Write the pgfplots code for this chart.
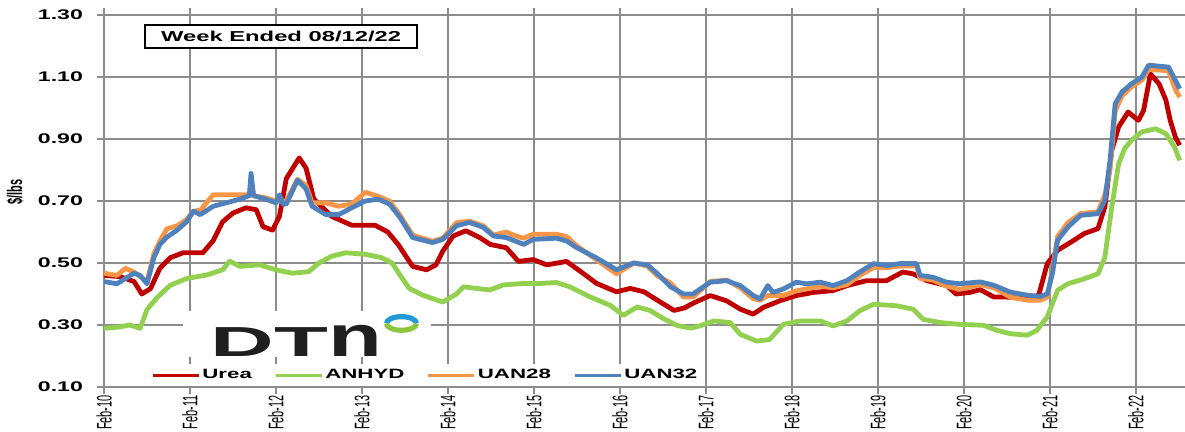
\documentclass[border=0pt]{standalone}
\usepackage{fontspec}
\setmainfont[FakeStretch=1.65]{Liberation Sans}
\newfontfamily\rotfont[FakeStretch=0.52]{Liberation Sans}
\newfontfamily\logofont[FakeStretch=2.1]{Liberation Sans}
\usepackage{graphicx}
\usepackage{pgfplots}
\pgfplotsset{compat=1.18}

\definecolor{urea}{HTML}{C00000}
\definecolor{anhyd}{HTML}{92D050}
\definecolor{uantwo}{HTML}{F79646}
\definecolor{uanthree}{HTML}{4F81BD}
\definecolor{gridgray}{HTML}{8C8C8C}
\definecolor{dtnblue}{HTML}{1E9AD6}
\definecolor{dtngreen}{HTML}{8CC63F}

% Retail prices in $/lb of nitrogen, x = years since Feb 2010
\pgfplotstableread{
x y
0.00 0.46
0.19 0.456
0.35 0.44
0.44 0.40
0.54 0.417
0.65 0.483
0.77 0.517
0.92 0.533
1.15 0.533
1.27 0.572
1.38 0.633
1.50 0.661
1.65 0.678
1.77 0.672
1.85 0.617
1.96 0.606
2.04 0.65
2.12 0.772
2.27 0.839
2.35 0.806
2.44 0.706
2.65 0.65
2.88 0.622
3.15 0.622
3.30 0.60
3.42 0.56
3.59 0.489
3.75 0.478
3.86 0.494
3.94 0.538
4.06 0.587
4.21 0.604
4.37 0.582
4.49 0.56
4.68 0.549
4.82 0.505
4.99 0.511
5.15 0.494
5.38 0.505
5.54 0.473
5.73 0.434
5.96 0.407
6.12 0.418
6.28 0.407
6.47 0.374
6.63 0.347
6.75 0.355
6.85 0.37
7.05 0.395
7.24 0.378
7.40 0.351
7.55 0.335
7.67 0.357
7.86 0.378
8.05 0.395
8.25 0.405
8.48 0.411
8.64 0.427
8.87 0.443
9.10 0.443
9.29 0.471
9.41 0.465
9.57 0.443
9.80 0.427
9.91 0.40
10.07 0.405
10.19 0.414
10.35 0.39
10.50 0.39
10.74 0.385
10.87 0.396
10.97 0.498
11.09 0.541
11.25 0.568
11.40 0.595
11.56 0.611
11.64 0.681
11.72 0.863
11.80 0.939
11.91 0.987
12.03 0.96
12.09 0.992
12.17 1.11
12.27 1.078
12.35 1.025
12.40 0.96
12.46 0.906
12.51 0.88
}\ureadata

\pgfplotstableread{
x y
0.00 0.289
0.19 0.294
0.30 0.30
0.42 0.289
0.50 0.35
0.62 0.389
0.77 0.428
0.96 0.45
1.19 0.461
1.38 0.478
1.46 0.506
1.58 0.489
1.81 0.494
2.00 0.478
2.19 0.467
2.38 0.472
2.50 0.50
2.65 0.522
2.81 0.533
3.04 0.528
3.23 0.517
3.35 0.50
3.44 0.462
3.55 0.418
3.71 0.396
3.94 0.374
4.10 0.40
4.18 0.423
4.33 0.418
4.49 0.413
4.64 0.429
4.88 0.434
5.07 0.434
5.26 0.437
5.42 0.423
5.65 0.391
5.89 0.363
6.04 0.331
6.20 0.358
6.35 0.347
6.51 0.32
6.67 0.298
6.82 0.29
6.93 0.297
7.09 0.313
7.28 0.308
7.40 0.27
7.59 0.248
7.74 0.253
7.90 0.302
8.09 0.313
8.33 0.313
8.48 0.297
8.64 0.313
8.79 0.346
8.95 0.367
9.22 0.362
9.41 0.351
9.53 0.318
9.72 0.308
9.95 0.302
10.23 0.299
10.38 0.283
10.54 0.272
10.74 0.267
10.85 0.283
10.97 0.326
11.09 0.412
11.21 0.433
11.40 0.449
11.56 0.465
11.64 0.519
11.72 0.681
11.80 0.82
11.87 0.869
11.95 0.896
12.07 0.923
12.23 0.933
12.35 0.917
12.45 0.874
12.51 0.831
}\anhyddata

\pgfplotstableread{
x y
0.00 0.467
0.15 0.46
0.25 0.483
0.35 0.47
0.50 0.44
0.58 0.53
0.65 0.57
0.73 0.61
0.85 0.62
0.96 0.64
1.04 0.667
1.12 0.67
1.27 0.72
1.42 0.72
1.58 0.72
1.69 0.72
1.88 0.71
2.00 0.70
2.12 0.70
2.25 0.77
2.35 0.75
2.42 0.694
2.58 0.694
2.73 0.683
2.88 0.69
3.04 0.728
3.19 0.715
3.32 0.70
3.44 0.655
3.59 0.59
3.82 0.57
3.94 0.58
4.10 0.63
4.25 0.635
4.41 0.62
4.53 0.59
4.68 0.60
4.76 0.59
4.88 0.58
4.99 0.593
5.26 0.593
5.38 0.585
5.50 0.555
5.73 0.51
5.96 0.465
6.16 0.50
6.32 0.49
6.43 0.46
6.59 0.435
6.74 0.39
6.85 0.39
7.05 0.44
7.24 0.445
7.40 0.42
7.55 0.385
7.63 0.38
7.72 0.395
7.90 0.395
8.05 0.41
8.33 0.425
8.48 0.42
8.64 0.43
8.79 0.46
8.95 0.485
9.10 0.485
9.26 0.49
9.45 0.49
9.49 0.45
9.64 0.445
9.80 0.425
9.95 0.415
10.19 0.43
10.35 0.42
10.54 0.39
10.74 0.38
10.89 0.38
10.97 0.39
11.03 0.48
11.09 0.585
11.21 0.63
11.36 0.66
11.56 0.665
11.64 0.72
11.70 0.80
11.76 0.99
11.84 1.04
11.95 1.068
12.07 1.09
12.15 1.125
12.38 1.12
12.46 1.06
12.51 1.035
}\uantwodata

\pgfplotstableread{
x y
0.00 0.44
0.15 0.433
0.35 0.467
0.42 0.46
0.50 0.433
0.58 0.517
0.65 0.56
0.73 0.583
0.85 0.606
0.96 0.633
1.04 0.667
1.12 0.656
1.27 0.683
1.42 0.694
1.58 0.706
1.69 0.717
1.71 0.789
1.74 0.717
1.88 0.706
2.00 0.694
2.04 0.72
2.08 0.69
2.12 0.69
2.25 0.767
2.35 0.739
2.42 0.683
2.58 0.656
2.73 0.656
2.88 0.678
3.04 0.70
3.19 0.706
3.32 0.69
3.44 0.648
3.59 0.582
3.82 0.566
3.94 0.576
4.10 0.62
4.25 0.631
4.41 0.615
4.53 0.587
4.68 0.582
4.88 0.56
4.99 0.576
5.26 0.58
5.38 0.571
5.50 0.549
5.73 0.516
5.96 0.478
6.16 0.50
6.32 0.494
6.43 0.467
6.59 0.423
6.74 0.40
6.85 0.40
7.05 0.438
7.24 0.443
7.40 0.427
7.55 0.395
7.63 0.384
7.72 0.427
7.78 0.405
7.90 0.416
8.05 0.438
8.17 0.433
8.33 0.438
8.48 0.427
8.64 0.443
8.79 0.471
8.95 0.498
9.10 0.492
9.26 0.498
9.45 0.498
9.49 0.46
9.64 0.454
9.80 0.438
9.95 0.433
10.19 0.439
10.35 0.428
10.54 0.406
10.74 0.396
10.89 0.392
10.97 0.40
11.03 0.466
11.09 0.573
11.21 0.616
11.36 0.654
11.56 0.659
11.64 0.702
11.70 0.831
11.76 1.014
11.84 1.052
11.95 1.078
12.07 1.10
12.15 1.138
12.38 1.132
12.46 1.089
12.51 1.062
}\uanthreedata

\begin{document}
\begin{tikzpicture}
\begin{axis}[
  scale only axis,
  width=543pt, height=186pt,
  xmin=0, xmax=12.63, ymin=0.1, ymax=1.3,
  axis lines*=box,
  xtick={0,1,2,3,4,5,6,7,8,9,10,11,12},
  xticklabels={Feb-10,Feb-11,Feb-12,Feb-13,Feb-14,Feb-15,Feb-16,Feb-17,Feb-18,Feb-19,Feb-20,Feb-21,Feb-22},
  ytick={0.1,0.3,0.5,0.7,0.9,1.1,1.3},
  yticklabel style={/pgf/number format/.cd, fixed, fixed zerofill, precision=2,
    assume math mode=true, /tikz/.cd, font=\bfseries\fontsize{7}{8}\selectfont, xshift=-3.5pt},
  xticklabel style={rotate=90, anchor=east, inner xsep=0.5pt,
    font=\rotfont\fontsize{10.5}{10.5}\selectfont},
  ylabel={\$/lbs},
  every axis y label/.style={at={(rel axis cs:0,0.524)}, xshift=-44.5pt, rotate=90,
    anchor=center, inner sep=0pt, font=\rotfont\bfseries\fontsize{10.5}{11}\selectfont},
  grid=major,
  major grid style={draw=gridgray, line width=1pt},
  axis line style={draw=gridgray, line width=1pt},
  tick style={draw=gridgray, line width=1pt},
  tick align=outside, major tick length=3.5pt,
  legend columns=4,
  legend style={at={(axis cs:0.53,0.138)}, anchor=west, draw=none, fill=white,
    inner sep=0.5pt, font=\bfseries\fontsize{6.75}{7.5}\selectfont,
    /tikz/every even column/.append style={column sep=10pt},
    nodes={inner xsep=1pt}},
  legend image code/.code={\draw[#1, line width=1.7pt] (0pt,0pt) -- (23pt,0pt);},
  every axis plot/.append style={line width=2.4pt, line join=round},
]
% logo panel
\fill[white] (axis cs:0.92,0.196) rectangle (axis cs:3.80,0.345);
\node[anchor=center, inner sep=0pt, font=\logofont\bfseries\fontsize{21}{21}\selectfont, text=black!88]
  at (axis cs:2.24,0.250) {DT\scalebox{1}[1.38]{n}};
\draw[dtnblue, line width=2.6pt] ([xshift=-7.5pt]axis cs:3.46,0.305) arc[start angle=180, end angle=0, x radius=7.5pt, y radius=3.4pt];
\draw[dtngreen, line width=2.6pt] ([xshift=-7.5pt]axis cs:3.46,0.305) arc[start angle=180, end angle=360, x radius=7.5pt, y radius=3.4pt];

\addplot[urea] table[x=x, y=y] {\ureadata};
\addlegendentry{Urea}
\addplot[anhyd] table[x=x, y=y] {\anhyddata};
\addlegendentry{ANHYD}
\addplot[uantwo] table[x=x, y=y] {\uantwodata};
\addlegendentry{UAN28}
\addplot[uanthree] table[x=x, y=y] {\uanthreedata};
\addlegendentry{UAN32}

\node[draw=black, line width=0.7pt, fill=white, minimum width=136pt, minimum height=11.5pt,
  inner sep=1pt, font=\bfseries\fontsize{7.2}{8.5}\selectfont]
  at (axis cs:2.06,1.23) {Week Ended 08/12/22};
\end{axis}
\pgfresetboundingbox
\path ([xshift=-52pt, yshift=-22.5pt] current axis.south west) rectangle ([xshift=-2.5pt, yshift=7.5pt] current axis.north east);
\end{tikzpicture}
\end{document}
